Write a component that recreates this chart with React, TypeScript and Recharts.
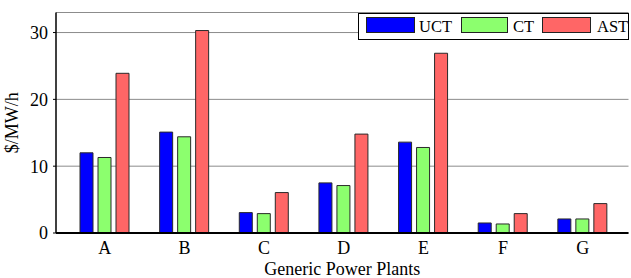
import React from 'react';
import {
  BarChart,
  Bar,
  XAxis,
  YAxis,
  CartesianGrid,
  Legend,
} from 'recharts';

const categories = ['A', 'B', 'C', 'D', 'E', 'F', 'G'];
const uctValues = [12.0, 15.1, 3.05, 7.5, 13.6, 1.5, 2.1];
const ctValues = [11.3, 14.4, 2.9, 7.1, 12.8, 1.35, 2.1];
const astValues = [23.9, 30.3, 6.05, 14.8, 26.9, 2.9, 4.4];
const yTicks = [0, 10, 20, 30];
const seriesNames = ['UCT', 'CT', 'AST'];
const seriesColors = ['#0000FF', '#8CFF6E', '#FF6666'];

const data = categories.map((name, i) => ({
  name,
  UCT: uctValues[i],
  CT: ctValues[i],
  AST: astValues[i],
}));

const FONT = '"Liberation Serif", "Times New Roman", serif';

const LegendBox = () => {
  const swatchX = [7, 102, 183];
  const textX = [60, 154, 238];
  const swatchW = [49, 47, 49];
  return (
    <div
      style={{
        position: 'relative',
        width: 271,
        height: 27,
        boxSizing: 'border-box',
        border: '1.5px solid #000',
        background: '#fff',
        fontFamily: FONT,
        fontSize: 16.5,
      }}
    >
      {seriesNames.map((n, i) => (
        <React.Fragment key={n}>
          <div
            style={{
              position: 'absolute',
              left: swatchX[i],
              top: 3,
              width: swatchW[i],
              height: 16,
              boxSizing: 'border-box',
              border: '1px solid #222',
              background: seriesColors[i],
            }}
          />
          <span
            style={{
              position: 'absolute',
              left: textX[i],
              top: 2,
              lineHeight: '22px',
              color: '#000',
              whiteSpace: 'nowrap',
            }}
          >
            {n}
          </span>
        </React.Fragment>
      ))}
    </div>
  );
};

const TopTick = (props: any) => {
  const { x, y } = props;
  return <line x1={x} x2={x} y1={y} y2={y + 3} stroke="#000" strokeWidth={1} />;
};

const RightTick = (props: any) => {
  const { x, y } = props;
  return <line x1={x - 3} x2={x} y1={y} y2={y} stroke="#000" strokeWidth={1} />;
};

const YLabel = (props: any) => {
  const { viewBox } = props;
  const cy = viewBox.y + viewBox.height / 2;
  const x = 17.5;
  return (
    <text
      x={x}
      y={cy}
      transform={`rotate(-90, ${x}, ${cy})`}
      textAnchor="middle"
      fontFamily={FONT}
      fontSize={18}
      fill="#000"
    >
      $/MW/h
    </text>
  );
};

export default function App() {
  return (
    <div style={{ position: 'absolute', left: 0, top: 0, width: 631, height: 278, background: '#fff' }}>
      <BarChart
        width={631}
        height={278}
        data={data}
        margin={{ top: 12.5, right: 2.5, bottom: 0, left: 0 }}
        barSize={13}
        barGap={5}
      >
        <CartesianGrid
          xAxisId="bottom"
          yAxisId="left"
          vertical={false}
          stroke="#8C8C8C"
          strokeWidth={1}
        />
        <XAxis
          xAxisId="bottom"
          dataKey="name"
          height={45}
          padding={{ left: 9, right: 6 }}
          axisLine={{ stroke: '#000', strokeWidth: 2 }}
          tickLine={false}
          tickSize={6}
          tickMargin={2}
          tick={{ fill: '#000', fontFamily: FONT, fontSize: 18 }}
          label={{
            value: 'Generic Power Plants',
            position: 'insideBottom',
            offset: 3,
            fill: '#000',
            fontFamily: FONT,
            fontSize: 18,
          }}
        />
        <XAxis
          xAxisId="top"
          dataKey="name"
          orientation="top"
          height={0}
          padding={{ left: 9, right: 6 }}
          axisLine={{ stroke: '#000', strokeWidth: 1.5 }}
          tickLine={false}
          tick={<TopTick />}
        />
        <YAxis
          yAxisId="left"
          width={56}
          domain={[0, 33]}
          ticks={yTicks}
          allowDataOverflow
          axisLine={{ stroke: '#000', strokeWidth: 1.5 }}
          tickLine={{ stroke: '#000' }}
          tickSize={3}
          tickMargin={5}
          tick={{ fill: '#000', fontFamily: FONT, fontSize: 18 }}
          label={<YLabel />}
        />
        <YAxis
          yAxisId="right"
          orientation="right"
          width={0}
          domain={[0, 33]}
          ticks={[10, 20, 30]}
          allowDataOverflow
          axisLine={{ stroke: '#000', strokeWidth: 1.5 }}
          tickLine={false}
          tick={<RightTick />}
        />
        <Legend
          layout="horizontal"
          verticalAlign="middle"
          align="center"
          wrapperStyle={{ left: 358, top: 13, width: 271, height: 27 }}
          content={<LegendBox />}
        />
        {seriesNames.map((n, i) => (
          <Bar
            key={n}
            xAxisId="bottom"
            yAxisId="left"
            dataKey={n}
            fill={seriesColors[i]}
            stroke="#2A2A2A"
            strokeWidth={1}
            isAnimationActive={false}
          />
        ))}
      </BarChart>
    </div>
  );
}
